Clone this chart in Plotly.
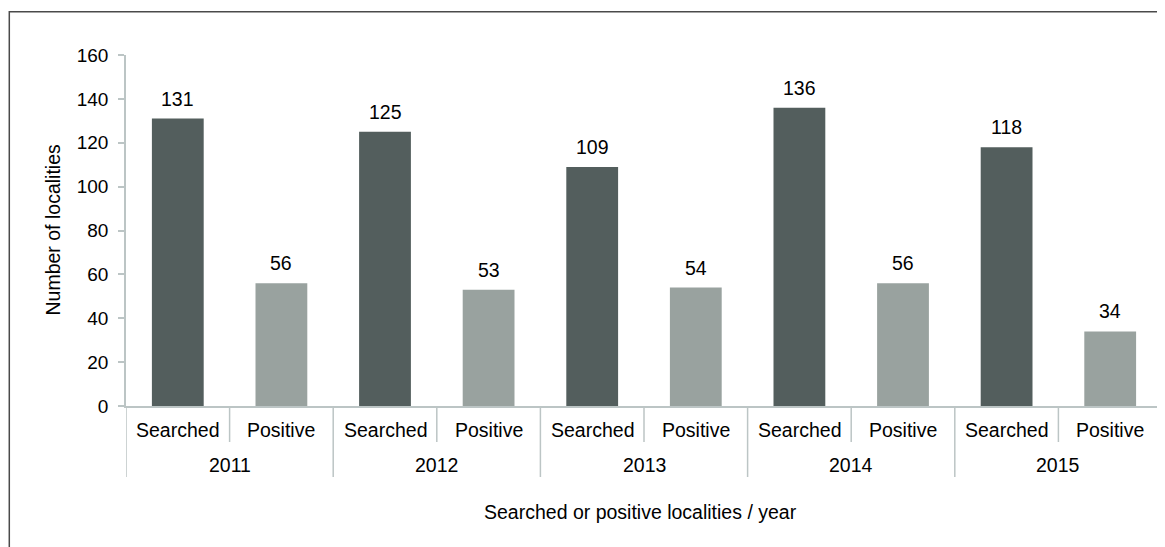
import plotly.graph_objects as go

years = ["2011", "2012", "2013", "2014", "2015"]
kinds = ["Searched", "Positive"]
searched = [131, 125, 109, 136, 118]
positive = [56, 53, 54, 56, 34]
y_ticks = [0, 20, 40, 60, 80, 100, 120, 140, 160]

x_title = "Searched or positive localities / year"
y_title = "Number of localities"

DARK = "#535e5d"
LIGHT = "#99a29f"
AXIS = "#bcc5c5"
FONT = "Liberation Sans, Arial, sans-serif"
FS = 19
FS2 = 19.5

# page body has an 8px margin: compensate so that the figure lands where wanted
OFF = 8
W, H = 1165 - OFF, 547 - OFF
ML, MR, MT = 126 - OFF, 3, 55 - OFF
PW = W - ML - MR
PH = 351
MB = H - MT - PH


def py(px_below_axis):
    """paper y for a point px_below_axis pixels below the x axis"""
    return -px_below_axis / PH


xs_outer = [yr for yr in years for _ in kinds]
xs_inner = [k for _ in years for k in kinds]

fig = go.Figure()
fig.add_trace(go.Bar(
    x=[years, ["Searched"] * len(years)], y=searched,
    marker=dict(color=DARK, line=dict(width=0)), width=0.5, name="Searched",
    hoverinfo="y",
))
fig.add_trace(go.Bar(
    x=[years, ["Positive"] * len(years)], y=positive,
    marker=dict(color=LIGHT, line=dict(width=0)), width=0.5, name="Positive",
    hoverinfo="y",
))

annotations = []
# value labels above bars
for i, yr in enumerate(years):
    for j, val in enumerate([searched[i], positive[i]]):
        annotations.append(dict(
            x=2 * i + j, y=val, xref="x", yref="y", text=str(val),
            showarrow=False, yanchor="bottom", yshift=7,
            font=dict(family=FONT, size=FS2, color="#000"),
        ))

# category labels (two rows)
for idx, name in enumerate(xs_inner):
    annotations.append(dict(
        x=idx, y=py(23.5), xref="x", yref="paper", text=name,
        showarrow=False, xanchor="center", yanchor="middle",
        font=dict(family=FONT, size=FS2, color="#000"),
    ))
for i, yr in enumerate(years):
    annotations.append(dict(
        x=2 * i + 0.5, y=py(59), xref="x", yref="paper", text=yr,
        showarrow=False, xanchor="center", yanchor="middle",
        font=dict(family=FONT, size=FS2, color="#000"),
    ))

# axis titles
annotations.append(dict(
    x=(640 - OFF - ML) / PW, y=py(512 - 406), xref="paper", yref="paper",
    text=x_title, showarrow=False, xanchor="center", yanchor="middle",
    font=dict(family=FONT, size=FS2, color="#000"),
))
annotations.append(dict(
    x=(52 - OFF - ML) / PW, y=0.5, xref="paper", yref="paper",
    text=y_title, showarrow=False, textangle=-90, xanchor="center", yanchor="middle",
    font=dict(family=FONT, size=FS2, color="#000"),
))

shapes = []
# inner dividers between Searched and Positive
for i in range(len(years)):
    shapes.append(dict(
        type="line", xref="x", yref="paper", x0=2 * i + 0.5, x1=2 * i + 0.5,
        y0=0, y1=py(36), line=dict(color=AXIS, width=1.5),
    ))
# outer dividers between years
for i in range(len(years) + 1):
    shapes.append(dict(
        type="line", xref="x", yref="paper", x0=2 * i - 0.5, x1=2 * i - 0.5,
        y0=0, y1=py(71), line=dict(color=AXIS, width=1.5),
    ))
# outer frame
shapes.append(dict(
    type="rect", xref="paper", yref="paper",
    x0=(9.3 - OFF - ML) / PW, x1=(1200 - OFF - ML) / PW,
    y0=py(200), y1=1 + (MT - (11.7 - OFF)) / PH,
    line=dict(color="#4a4a4a", width=1.5), fillcolor="rgba(0,0,0,0)", layer="below",
))

fig.update_layout(
    width=W, height=H,
    margin=dict(l=ML, r=MR, t=MT, b=MB, pad=0),
    plot_bgcolor="white", paper_bgcolor="white",
    barmode="overlay", showlegend=False,
    font=dict(family=FONT, size=FS, color="#000"),
    annotations=annotations, shapes=shapes,
    xaxis=dict(
        type="multicategory", showline=True, linecolor=AXIS, linewidth=1.5,
        ticks="", showgrid=False, zeroline=False,
        showticklabels=False, showdividers=False,
        range=[-0.5, 2 * len(years) - 0.5],
    ),
    yaxis=dict(
        range=[0, 160], tickvals=y_ticks, ticktext=[str(v) for v in y_ticks],
        showline=True, linecolor=AXIS, linewidth=1.5,
        ticks="outside", ticklen=6, tickcolor=AXIS, tickwidth=1.5,
        ticklabelstandoff=6,
        showgrid=False, zeroline=False,
        tickfont=dict(family=FONT, size=FS, color="#000"),
    ),
)

fig.write_html("out.html")
